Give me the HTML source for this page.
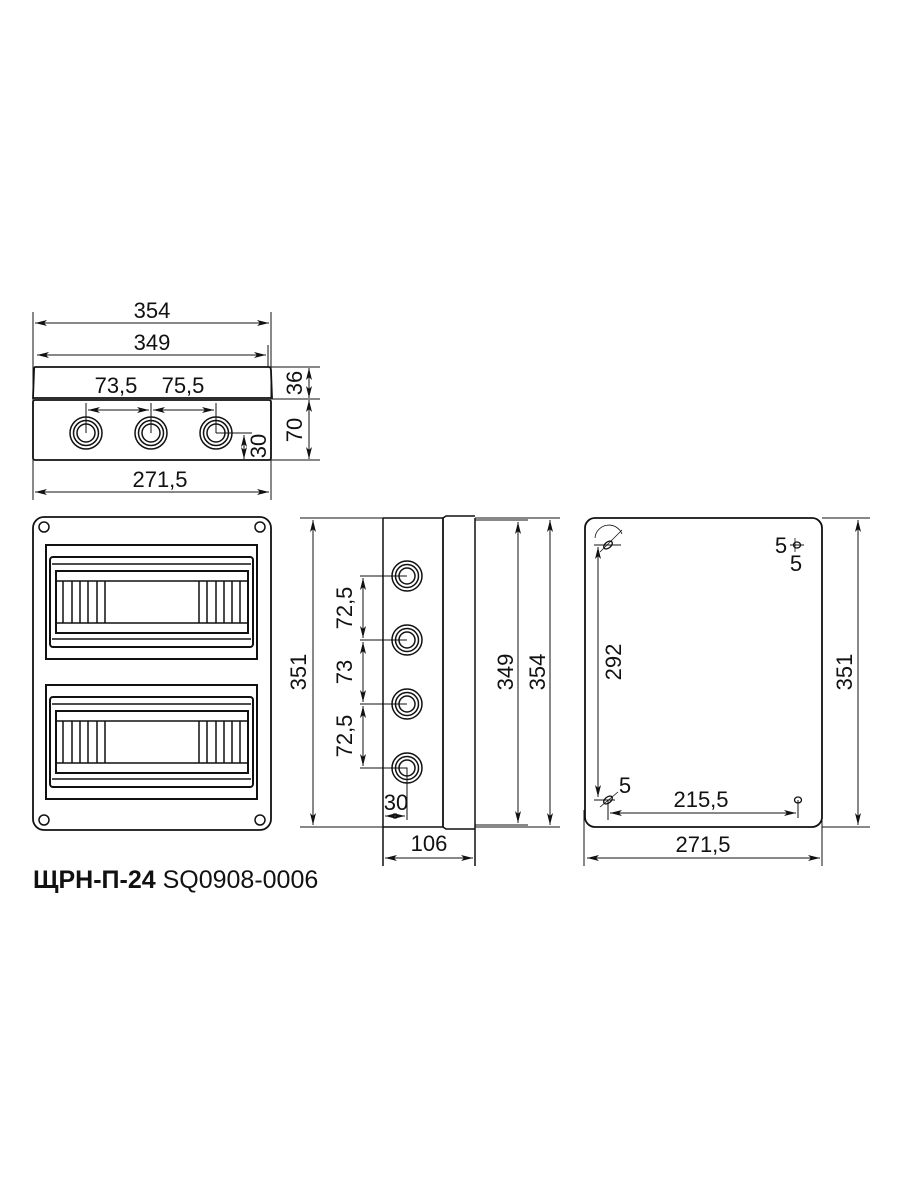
<!DOCTYPE html>
<html><head><meta charset="utf-8"><style>
html,body{margin:0;padding:0;background:#fff;width:900px;height:1200px;overflow:hidden}
svg{display:block}
text{font-family:"Liberation Sans","DejaVu Sans",sans-serif;font-size:22px;fill:#111}
</style></head><body>
<svg width="900" height="1200" viewBox="0 0 900 1200" xmlns="http://www.w3.org/2000/svg">
<defs>
<marker id="a" viewBox="0 0 12 6" refX="12" refY="3" markerWidth="12" markerHeight="6" markerUnits="userSpaceOnUse" orient="auto-start-reverse"><path d="M0,0 L12,3 L0,6 L3,3 Z" fill="#111"/></marker>
</defs>
<g stroke="#111" fill="none" stroke-width="1">
<!-- TOP VIEW -->
<line x1="33" y1="312" x2="33" y2="500"/>
<line x1="271" y1="312" x2="271" y2="500"/>
<line x1="268" y1="345" x2="268" y2="367"/>
<line x1="35" y1="323" x2="269" y2="323" marker-start="url(#a)" marker-end="url(#a)"/>
<line x1="37" y1="355" x2="266" y2="355" marker-start="url(#a)" marker-end="url(#a)"/>
<path d="M35,367 H269 Q271,367 271,371 L272,398 H33 L34,371 Q34,367 35,367Z" stroke-width="1.8"/>
<rect x="33" y="400" width="238" height="60" rx="2" stroke-width="1.8"/>
<g stroke-width="1.5">
<circle cx="86" cy="433" r="16"/><circle cx="86" cy="433" r="12.5"/><circle cx="86" cy="433" r="9"/>
<circle cx="151" cy="433" r="16"/><circle cx="151" cy="433" r="12.5"/><circle cx="151" cy="433" r="9"/>
<circle cx="216" cy="433" r="16"/><circle cx="216" cy="433" r="12.5"/><circle cx="216" cy="433" r="9"/>
</g>
<line x1="86" y1="403" x2="86" y2="433"/><line x1="151" y1="403" x2="151" y2="433"/><line x1="216" y1="403" x2="216" y2="433"/>
<line x1="88" y1="410" x2="149" y2="410" marker-start="url(#a)" marker-end="url(#a)"/>
<line x1="153" y1="410" x2="214" y2="410" marker-start="url(#a)" marker-end="url(#a)"/>
<line x1="216" y1="433" x2="252" y2="433"/>
<line x1="244" y1="435" x2="244" y2="459" marker-start="url(#a)" marker-end="url(#a)"/>
<line x1="252" y1="367" x2="320" y2="367"/>
<line x1="272" y1="399" x2="320" y2="399"/>
<line x1="271" y1="460" x2="320" y2="460"/>
<line x1="309" y1="368" x2="309" y2="398" marker-start="url(#a)" marker-end="url(#a)"/>
<line x1="309" y1="400" x2="309" y2="459" marker-start="url(#a)" marker-end="url(#a)"/>
<line x1="35" y1="492" x2="269" y2="492" marker-start="url(#a)" marker-end="url(#a)"/>

<!-- FRONT VIEW -->
<rect x="33" y="517" width="238" height="313" rx="11" stroke-width="1.8"/>
<g stroke-width="1.5">
<circle cx="44" cy="527" r="5"/><circle cx="260" cy="527" r="5"/><circle cx="44" cy="820" r="5"/><circle cx="260" cy="820" r="5"/>
</g>
<g id="mod" stroke-width="1.5">
<rect x="46" y="545" width="211" height="114" stroke-width="2"/>
<rect x="50" y="557" width="203" height="90" rx="3" stroke-width="2"/>
<line x1="52" y1="564" x2="251" y2="564"/>
<line x1="52" y1="639" x2="251" y2="639"/>
<rect x="56" y="571" width="192" height="62" stroke-width="2"/>
<line x1="57" y1="581" x2="247" y2="581"/>
<line x1="57" y1="623" x2="247" y2="623"/>
<path d="M63,581V623M72,581V623M80,581V623M88,581V623M97,581V623M105,581V623"/>
<path d="M199,581V623M207,581V623M216,581V623M224,581V623M232,581V623M240,581V623"/>
</g>
<use href="#mod" transform="translate(0,140)"/>

<!-- SIDE VIEW -->
<line x1="383" y1="518" x2="383" y2="866" stroke-width="1.5"/>
<line x1="383" y1="518" x2="443" y2="518" stroke-width="1.5"/>
<line x1="383" y1="827" x2="443" y2="827" stroke-width="1.5"/>
<line x1="443" y1="518" x2="443" y2="827" stroke-width="1.8"/>
<path d="M443,518 L446,516 H475 M443,827 L446,829 H475" stroke-width="1.5"/>
<line x1="475" y1="518" x2="475" y2="866" stroke-width="1.5"/>
<g stroke-width="1.5">
<circle cx="407" cy="576" r="15"/><circle cx="407" cy="576" r="11.5"/><circle cx="407" cy="576" r="8"/>
<circle cx="407" cy="640" r="15"/><circle cx="407" cy="640" r="11.5"/><circle cx="407" cy="640" r="8"/>
<circle cx="407" cy="704" r="15"/><circle cx="407" cy="704" r="11.5"/><circle cx="407" cy="704" r="8"/>
<circle cx="407" cy="768" r="15"/><circle cx="407" cy="768" r="11.5"/><circle cx="407" cy="768" r="8"/>
</g>
<path d="M360,576H407M360,640H407M360,704H407M360,768H407V820"/>
<line x1="363" y1="578" x2="363" y2="638" marker-start="url(#a)" marker-end="url(#a)"/>
<line x1="363" y1="642" x2="363" y2="702" marker-start="url(#a)" marker-end="url(#a)"/>
<line x1="363" y1="706" x2="363" y2="766" marker-start="url(#a)" marker-end="url(#a)"/>
<line x1="385" y1="816" x2="405" y2="816" marker-start="url(#a)" marker-end="url(#a)"/>
<line x1="300" y1="518" x2="383" y2="518"/>
<line x1="300" y1="827" x2="383" y2="827"/>
<line x1="313" y1="520" x2="313" y2="825" marker-start="url(#a)" marker-end="url(#a)"/>
<line x1="475" y1="518" x2="560" y2="518"/>
<line x1="475" y1="827" x2="560" y2="827"/>
<line x1="475" y1="520" x2="528" y2="520"/>
<line x1="475" y1="825" x2="528" y2="825"/>
<line x1="518" y1="522" x2="518" y2="823" marker-start="url(#a)" marker-end="url(#a)"/>
<line x1="550" y1="520" x2="550" y2="825" marker-start="url(#a)" marker-end="url(#a)"/>
<line x1="385" y1="858" x2="473" y2="858" marker-start="url(#a)" marker-end="url(#a)"/>

<!-- BACK VIEW -->
<rect x="585" y="518" width="237" height="309" rx="10" stroke-width="1.8"/>
<line x1="584" y1="810" x2="584" y2="866"/>
<line x1="822" y1="818" x2="822" y2="866"/>
<line x1="822" y1="518" x2="870" y2="518"/>
<line x1="822" y1="827" x2="870" y2="827"/>
<line x1="858" y1="520" x2="858" y2="825" marker-start="url(#a)" marker-end="url(#a)"/>
<line x1="587" y1="858" x2="820" y2="858" marker-start="url(#a)" marker-end="url(#a)"/>
<path d="M595,538 A14,14 0 0 1 622,534" stroke-width="0.8"/>
<ellipse cx="608" cy="545" rx="5" ry="3" transform="rotate(-40 608 545)" stroke-width="1.3"/>
<line x1="594" y1="545" x2="621" y2="545"/>
<line x1="600" y1="552" x2="622" y2="530" stroke-width="0.8"/>
<line x1="598" y1="547" x2="598" y2="797" marker-start="url(#a)" marker-end="url(#a)"/>
<ellipse cx="608" cy="800" rx="5" ry="3" transform="rotate(-40 608 800)" stroke-width="1.3"/>
<line x1="594" y1="800" x2="615" y2="800"/>
<line x1="600" y1="807" x2="618" y2="792" stroke-width="0.8"/>
<line x1="608" y1="800" x2="608" y2="820"/>
<ellipse cx="797" cy="545" rx="3.5" ry="3" stroke-width="1.3"/>
<line x1="790" y1="545" x2="804" y2="545"/>
<line x1="795" y1="538" x2="795" y2="552" stroke-width="0.8"/>
<ellipse cx="798" cy="800" rx="3.5" ry="3" stroke-width="1.3"/>
<line x1="798" y1="800" x2="798" y2="818"/>
<line x1="610" y1="813" x2="796" y2="813" marker-start="url(#a)" marker-end="url(#a)"/>
</g>

<!-- TEXT -->
<g text-anchor="middle">
<text x="152" y="318">354</text>
<text x="152" y="350">349</text>
<text x="116" y="393">73,5</text>
<text x="183" y="393">75,5</text>
<text x="160" y="487">271,5</text>
<text transform="translate(302,383) rotate(-90)">36</text>
<text transform="translate(302,430) rotate(-90)">70</text>
<text transform="translate(266,446) rotate(-90)">30</text>
<text transform="translate(306,672) rotate(-90)">351</text>
<text transform="translate(352,608) rotate(-90)">72,5</text>
<text transform="translate(352,672) rotate(-90)">73</text>
<text transform="translate(352,736) rotate(-90)">72,5</text>
<text x="396" y="810">30</text>
<text x="429" y="851">106</text>
<text transform="translate(513,672) rotate(-90)">349</text>
<text transform="translate(545,672) rotate(-90)">354</text>
<text transform="translate(621,662) rotate(-90)">292</text>
<text transform="translate(852,672) rotate(-90)">351</text>
<text x="701" y="807">215,5</text>
<text x="703" y="852">271,5</text>
<text x="781" y="553">5</text>
<text x="796" y="571">5</text>
<text x="625" y="793">5</text>
</g>
<text x="33" y="888" style="font-size:25px"><tspan font-weight="bold">ЩРН-П-24</tspan> SQ0908-0006</text>
</svg>
</body></html>
